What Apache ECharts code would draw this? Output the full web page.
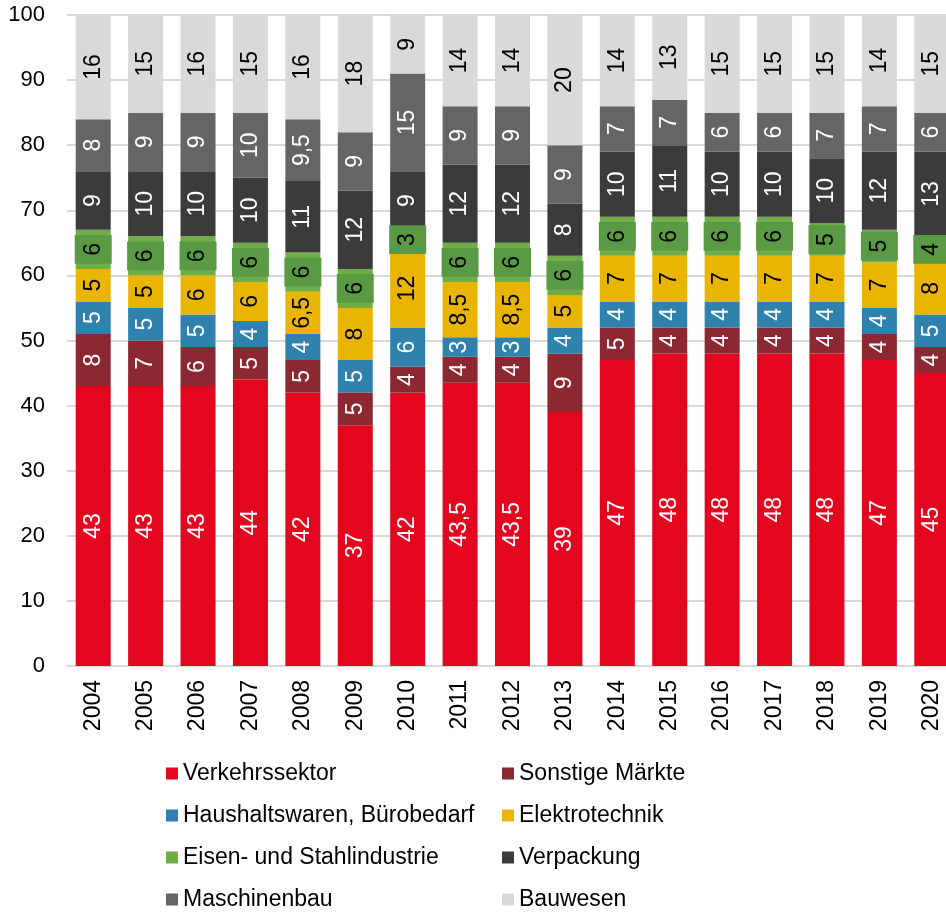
<!DOCTYPE html>
<html>
<head>
<meta charset="utf-8">
<script src="https://cdn.jsdelivr.net/npm/echarts@6/dist/echarts.min.js"></script>
<style>
  html, body { margin: 0; padding: 0; background: #fff; }
  #charts { width: 946px; height: 913px; }
</style>
</head>
<body>
<div id="charts"></div>
<script>
var years = ['2004', '2005', '2006', '2007', '2008', '2009', '2010', '2011', '2012', '2013', '2014', '2015', '2016', '2017', '2018', '2019', '2020'];

var verkehr = [43, 43, 43, 44, 42, 37, 42, 43.5, 43.5, 39, 47, 48, 48, 48, 48, 47, 45];
var sonstige = [8, 7, 6, 5, 5, 5, 4, 4, 4, 9, 5, 4, 4, 4, 4, 4, 4];
var haushalt = [5, 5, 5, 4, 4, 5, 6, 3, 3, 4, 4, 4, 4, 4, 4, 4, 5];
var elektro = [5, 5, 6, 6, 6.5, 8, 12, 8.5, 8.5, 5, 7, 7, 7, 7, 7, 7, 8];
var eisen = [6, 6, 6, 6, 6, 6, 3, 6, 6, 6, 6, 6, 6, 6, 5, 5, 4];
var verpackung = [9, 10, 10, 10, 11, 12, 9, 12, 12, 8, 10, 11, 10, 10, 10, 12, 13];
var maschinen = [8, 9, 9, 10, 9.5, 9, 15, 9, 9, 9, 7, 7, 6, 6, 7, 7, 6];
var bauwesen = [16, 15, 16, 15, 16, 18, 9, 14, 14, 20, 14, 13, 15, 15, 15, 14, 15];

var yTicks = [0, 10, 20, 30, 40, 50, 60, 70, 80, 90, 100];

var FONT = 'Liberation Sans, Arial, sans-serif';

var myChart = echarts.init(document.getElementById('charts'), null, { width: 946, height: 913 });

function fmt(p) {
    return String(p.value).replace('.', ',');
}

function makeSeries(name, data, color, textColor, labelBg) {
    var label = {
        show: true,
        position: 'inside',
        rotate: 90,
        formatter: fmt,
        color: textColor,
        fontSize: 23,
        fontFamily: FONT
    };
    if (labelBg) {
        label.backgroundColor = labelBg;
        label.padding = [7, 8];
    }
    return {
        name: name,
        type: 'bar',
        stack: 'total',
        barWidth: 35,
        data: data,
        itemStyle: { color: color },
        label: label
    };
}

var legendText = { color: '#000', fontSize: 23, lineHeight: 23, fontFamily: FONT };

var option = {
    animation: false,
    grid: { left: 67, top: 15, width: 891, height: 651, outerBoundsMode: 'none' },
    xAxis: {
        type: 'category',
        data: years,
        axisLine: { lineStyle: { color: '#d9d9d9', width: 2 } },
        axisTick: { show: false },
        axisLabel: { rotate: 90, margin: 14, color: '#000', fontSize: 23, fontFamily: FONT }
    },
    yAxis: {
        type: 'value',
        min: yTicks[0],
        max: yTicks[yTicks.length - 1],
        interval: 10,
        axisLine: { show: false },
        axisTick: { show: false },
        splitLine: { lineStyle: { color: '#d9d9d9', width: 2 } },
        axisLabel: { margin: 22, color: '#000', fontSize: 22, fontFamily: FONT }
    },
    legend: [
        {
            orient: 'vertical',
            left: 161, top: 757, height: 200,
            itemWidth: 12, itemHeight: 12, itemGap: 19,
            icon: 'rect',
            textStyle: legendText,
            data: ['Verkehrssektor', 'Haushaltswaren, Bürobedarf', 'Eisen- und Stahlindustrie', 'Maschinenbau']
        },
        {
            orient: 'vertical',
            left: 497, top: 757, height: 200,
            itemWidth: 12, itemHeight: 12, itemGap: 19,
            icon: 'rect',
            textStyle: legendText,
            data: ['Sonstige Märkte', 'Elektrotechnik', 'Verpackung', 'Bauwesen']
        }
    ],
    series: [
        makeSeries('Verkehrssektor', verkehr, '#e3061e', '#fff'),
        makeSeries('Sonstige Märkte', sonstige, '#8b2832', '#fff'),
        makeSeries('Haushaltswaren, Bürobedarf', haushalt, '#2f81ae', '#fff'),
        makeSeries('Elektrotechnik', elektro, '#e9b500', '#000'),
        makeSeries('Eisen- und Stahlindustrie', eisen, '#70ad47', '#000', '#5a9a44'),
        makeSeries('Verpackung', verpackung, '#3b3b3b', '#fff'),
        makeSeries('Maschinenbau', maschinen, '#656565', '#fff'),
        makeSeries('Bauwesen', bauwesen, '#d9d9d9', '#000')
    ]
};

myChart.setOption(option);
</script>
</body>
</html>
